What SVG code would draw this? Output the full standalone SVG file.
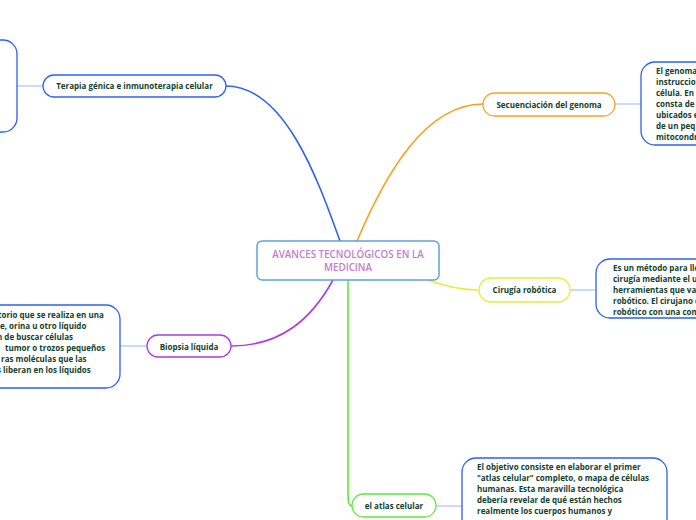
<svg xmlns="http://www.w3.org/2000/svg" width="696" height="520" viewBox="0 0 696 520">
<style>
  .t { font-family: "Open Sans", "Liberation Sans", sans-serif; font-size: 8px; font-weight: 700; fill: #123f2e; }
  .c { text-anchor: middle; }
  .title { font-family: "Open Sans", "Liberation Sans", sans-serif; font-size: 9.8px; font-weight: 600; fill: #c57ccb; text-anchor: middle; }
  .box { fill: #ffffff; stroke: #2f5ff0; stroke-width: 1.3; }
  .link { stroke: #a8c2f5; stroke-width: 1.2; fill: none; }
  .conn { fill: none; stroke-width: 1.6; stroke-linecap: round; }
</style>
<rect width="696" height="520" fill="#ffffff"/>
<g id="connectors">
  <path class="conn" stroke="#2f63f0" d="M226,86 C285,86 318,180 340,241"/>
  <path class="conn" stroke="#f7a11f" d="M357,241 C385,175 425,104 483,104"/>
  <path class="conn" stroke="#e2ee3a" d="M428,280 Q455,290 479,290"/>
  <path class="conn" stroke="#a93de8" d="M231,346 C282,346 312,318 333,280"/>
  <path class="conn" stroke="#5fe83a" d="M348,280 L348,496 Q348,506 352,506"/>
  <path class="link" d="M17,86 L43,86"/>
  <path class="link" d="M615,104 L641,104"/>
  <path class="link" d="M570,290 L596,290"/>
  <path class="link" d="M120,346 L147,346"/>
  <path class="link" d="M436,506 L462,506"/>
</g>
<g id="central">
  <rect x="257" y="241" width="182" height="39" rx="5" fill="#ffffff" stroke="#5ea3dc" stroke-width="1.5"/>
  <text class="title" x="348" y="258">AVANCES TECNOLÓGICOS EN LA</text>
  <text class="title" x="348" y="271">MEDICINA</text>
</g>
<g id="terapia">
  <rect x="43" y="75" width="183" height="22" rx="11" fill="#ffffff" stroke="#2f63f0" stroke-width="1.3"/>
  <text class="t c" x="134.5" y="89">Terapia génica e inmunoterapia celular</text>
</g>
<g id="terapia-detalle">
  <rect class="box" x="-40" y="40" width="57" height="92" rx="14"/>
</g>
<g id="secuenciacion">
  <rect x="483" y="93" width="132" height="23" rx="11.5" fill="#ffffff" stroke="#f7a11f" stroke-width="1.3"/>
  <text class="t c" x="549" y="107.5">Secuenciación del genoma</text>
</g>
<g id="secuenciacion-detalle">
  <rect class="box" x="641" y="62" width="120" height="83" rx="14"/>
  <text class="t" x="656" y="74">El genoma</text>
  <text class="t" x="656" y="85">instruccio</text>
  <text class="t" x="656" y="96">célula. En</text>
  <text class="t" x="656" y="107">consta de</text>
  <text class="t" x="656" y="118">ubicados e</text>
  <text class="t" x="656" y="129">de un peq</text>
  <text class="t" x="656" y="140">mitocondr</text>
</g>
<g id="cirugia">
  <rect x="479" y="278" width="91" height="24" rx="12" fill="#ffffff" stroke="#e2ee3a" stroke-width="1.3"/>
  <text class="t c" x="524.5" y="293">Cirugía robótica</text>
</g>
<g id="cirugia-detalle">
  <rect class="box" x="596" y="259" width="140" height="59" rx="14"/>
  <text class="t" x="613" y="271">Es un método para lle</text>
  <text class="t" x="613" y="282">cirugía mediante el u</text>
  <text class="t" x="613" y="293">herramientas que va</text>
  <text class="t" x="613" y="304">robótico. El cirujano c</text>
  <text class="t" x="613" y="315">robótico con una com</text>
</g>
<g id="biopsia">
  <rect x="147" y="335" width="84" height="22" rx="11" fill="#ffffff" stroke="#a93de8" stroke-width="1.3"/>
  <text class="t c" x="189" y="349.5">Biopsia líquida</text>
</g>
<g id="biopsia-detalle">
  <rect class="box" x="-60" y="305" width="180" height="83" rx="14"/>
  <text class="t" x="-2" y="318">torio que se realiza en una</text>
  <text class="t" x="0" y="329">e, orina u otro líquido</text>
  <text class="t" x="-3" y="340">n de buscar células</text>
  <text class="t" x="5" y="351">tumor o trozos pequeños</text>
  <text class="t" x="1" y="362">ras moléculas que las</text>
  <text class="t" x="-3" y="373">s liberan en los líquidos</text>
</g>
<g id="atlas">
  <rect x="352" y="494" width="84" height="23" rx="11.5" fill="#ffffff" stroke="#5fe83a" stroke-width="1.3"/>
  <text class="t c" x="394" y="508.5">el atlas celular</text>
</g>
<g id="atlas-detalle">
  <rect class="box" x="462" y="458" width="205" height="90" rx="14"/>
  <text class="t" x="477" y="470">El objetivo consiste en elaborar el primer</text>
  <text class="t" x="477" y="481">"atlas celular" completo, o mapa de células</text>
  <text class="t" x="477" y="492">humanas. Esta maravilla tecnológica</text>
  <text class="t" x="477" y="503">debería revelar de qué están hechos</text>
  <text class="t" x="477" y="514">realmente los cuerpos humanos y</text>
</g>
</svg>
